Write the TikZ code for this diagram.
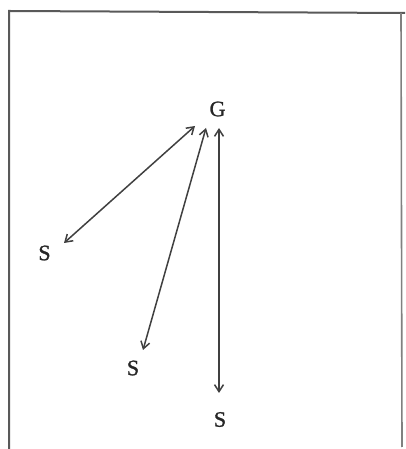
\documentclass[tikz,border=0pt]{standalone}
\usepackage{fontspec}
\setmainfont{Liberation Serif}
\newfontfamily\lblfont{Liberation Serif}[FakeBold=1.2]
\usetikzlibrary{arrows.meta}
\begin{document}
\begin{tikzpicture}[x=1pt,y=1pt,
  lbl/.style={inner sep=0pt,font=\lblfont\fontsize{22}{26}\selectfont,text=black!85},
  arr/.style={draw=black!75,line width=1.5pt,{Straight Barb[length=7pt,width=9pt]}-{Straight Barb[length=7pt,width=9pt]}},
  frame/.style={draw=black!65,line width=2pt}]
\useasboundingbox (0,0) rectangle (405,449);
\draw[frame] (9,0) -- (9,438) -- (405,436);
\draw[frame,draw=black!50,line width=1.6pt] (401,436) -- (402,2);
\node[lbl] (G) at (217.5,340) {G};
\node[lbl] (S1) at (44.5,196) {S};
\node[lbl] (S2) at (133,81) {S};
\node[lbl] (S3) at (220,29.5) {S};
\draw[arr] ([shift={(-22.5pt,-17pt)}]G.center) -- ([shift={(19.5pt,10pt)}]S1.center);
\draw[arr] ([shift={(-11.5pt,-19pt)}]G.center) -- ([shift={(10pt,18pt)}]S2.center);
\draw[arr] ([shift={(1.5pt,-19pt)}]G.center) -- ([shift={(-1pt,26.5pt)}]S3.center);
\end{tikzpicture}
\end{document}
